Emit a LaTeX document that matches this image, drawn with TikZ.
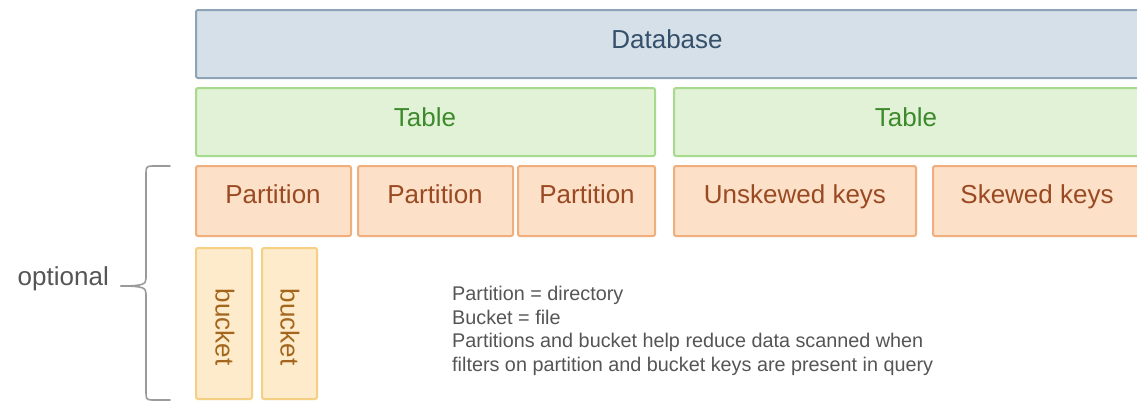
\documentclass[tikz,border=0pt]{standalone}
\usepackage{fontspec}
\setmainfont{Liberation Sans}
\definecolor{dbfill}{HTML}{D6E0E8}
\definecolor{dbdraw}{HTML}{8EA4B6}
\definecolor{dbtext}{HTML}{34506A}
\definecolor{tbfill}{HTML}{E2F2D6}
\definecolor{tbdraw}{HTML}{A6DA8C}
\definecolor{tbtext}{HTML}{3C8A2C}
\definecolor{ptfill}{HTML}{FDE0C8}
\definecolor{ptdraw}{HTML}{EFAE7C}
\definecolor{pttext}{HTML}{9A4A22}
\definecolor{bkfill}{HTML}{FDEBCB}
\definecolor{bkdraw}{HTML}{F5CF82}
\definecolor{bktext}{HTML}{A4661C}
\definecolor{bracegray}{HTML}{9A9A9A}
\definecolor{notegray}{HTML}{555555}
\tikzset{
  box/.style={draw, line width=2pt, rounded corners=2pt},
  dbbox/.style={box, fill=dbfill, draw=dbdraw},
  tbbox/.style={box, fill=tbfill, draw=tbdraw},
  ptbox/.style={box, fill=ptfill, draw=ptdraw},
  bkbox/.style={box, fill=bkfill, draw=bkdraw},
  lbl/.style={anchor=base, inner sep=0pt, font=\fontsize{26}{30}\selectfont},
}
\begin{document}
\begin{tikzpicture}[x=1pt,y=-1pt]
\clip (0,0) rectangle (1137,402);
\fill[white] (0,0) rectangle (1137,402);
% Database
\draw[dbbox] (196,10) rectangle (1160,78);
\node[lbl, text=dbtext] (db) at (667,48) {Database};
% Tables
\draw[tbbox] (196,88) rectangle (655,156);
\node[lbl, text=tbtext] (t1) at (425,126) {Table};
\draw[tbbox] (674,88) rectangle (1160,156);
\node[lbl, text=tbtext] (t2) at (906,126) {Table};
% Partitions
\draw[ptbox] (196,166) rectangle (351,236);
\node[lbl, text=pttext] (p1) at (273,203) {Partition};
\draw[ptbox] (358,166) rectangle (513,236);
\node[lbl, text=pttext] (p2) at (435,203) {Partition};
\draw[ptbox] (518,166) rectangle (655,236);
\node[lbl, text=pttext] (p3) at (587,203) {Partition};
\draw[ptbox] (674,166) rectangle (916,236);
\node[lbl, text=pttext] (uk) at (795,203) {Unskewed keys};
\draw[ptbox] (933,166) rectangle (1160,236);
\node[lbl, text=pttext] (sk) at (1037,203) {Skewed keys};
% Buckets
\draw[bkbox] (196,248) rectangle (252,399);
\node[font=\fontsize{26}{30}\selectfont, inner sep=0pt, text=bktext, rotate=-90] (b1) at (225,327) {bucket};
\draw[bkbox] (262,248) rectangle (317,399);
\node[font=\fontsize{26}{30}\selectfont, inner sep=0pt, text=bktext, rotate=-90] (b2) at (290,327) {bucket};
% Brace
\coordinate (bt) at (170,166);
\coordinate (bb) at (170,400);
\coordinate (btip) at (121,286);
\draw[bracegray, line width=1.6pt, line cap=round]
  (bt) -- (152,166) .. controls (146,166) and (146,168) .. (146,174)
  -- (146,278) .. controls (146,284) and (144,286) .. (btip);
\draw[bracegray, line width=1.6pt, line cap=round]
  (bb) -- (152,400) .. controls (146,400) and (146,398) .. (146,392)
  -- (146,294) .. controls (146,288) and (144,286) .. (btip);
\node[text=notegray, font=\fontsize{26}{30}\selectfont, anchor=base east, inner sep=0pt] (opt) at (109,285) {optional};
% Note
\node[text=notegray, anchor=base west, align=left, inner sep=0pt,
  font=\fontsize{19.8}{23.4}\selectfont] (note) at (452,371)
  {Partition = directory\\Bucket = file\\Partitions and bucket help reduce data scanned when\\filters on partition and bucket keys are present in query};
\end{tikzpicture}
\end{document}
